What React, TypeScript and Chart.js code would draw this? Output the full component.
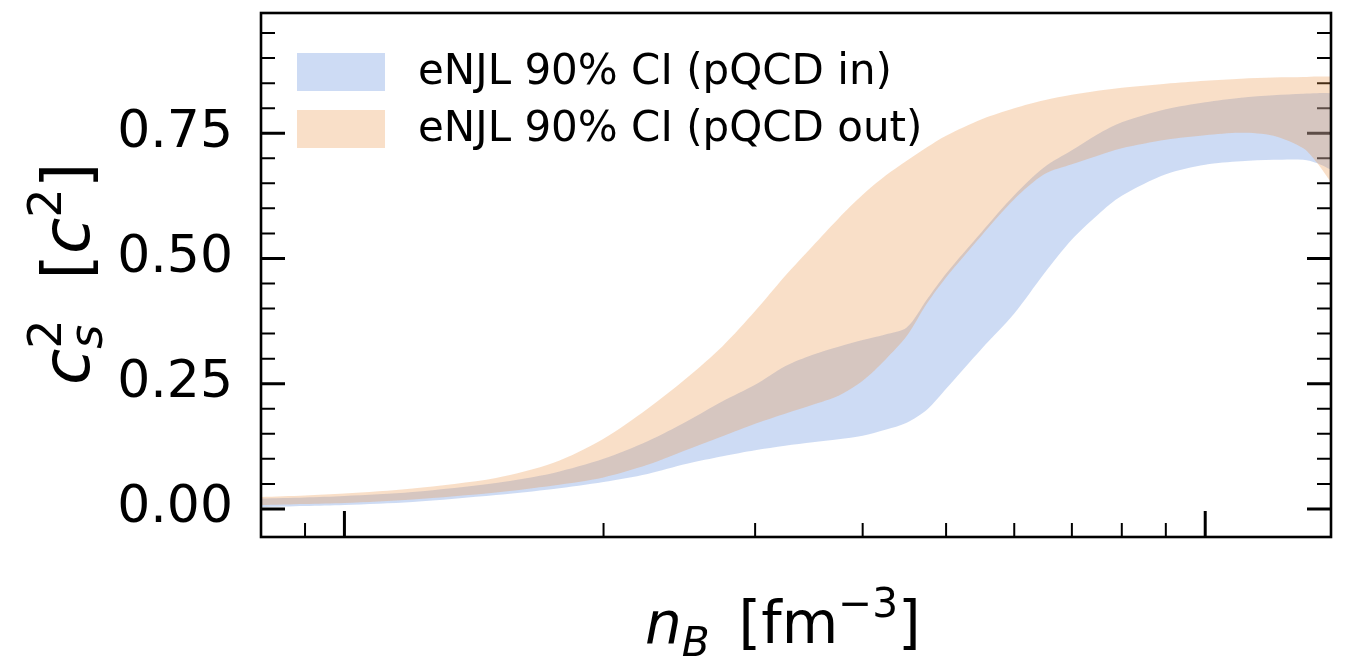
import React, { useEffect, useRef } from "react";
import { Chart, registerables } from "chart.js";

Chart.register(...registerables);

// ---- data ----
const nB = [0.08, 0.09, 0.1, 0.12, 0.15, 0.175, 0.2, 0.225, 0.25, 0.275, 0.3, 0.325, 0.35, 0.375, 0.4, 0.425, 0.45, 0.475, 0.5, 0.55, 0.6, 0.65, 0.7, 0.75, 0.8, 0.9, 1.0, 1.1, 1.2, 1.3, 1.35, 1.4];
const outHi = [0.024, 0.027, 0.031, 0.041, 0.062, 0.092, 0.14, 0.2, 0.262, 0.325, 0.395, 0.465, 0.525, 0.58, 0.627, 0.665, 0.695, 0.722, 0.745, 0.778, 0.8, 0.816, 0.827, 0.835, 0.841, 0.849, 0.855, 0.859, 0.861, 0.862, 0.863, 0.863];
const outLo = [0.008, 0.01, 0.012, 0.019, 0.033, 0.047, 0.063, 0.088, 0.118, 0.145, 0.17, 0.19, 0.208, 0.226, 0.256, 0.298, 0.345, 0.41, 0.462, 0.546, 0.618, 0.668, 0.688, 0.705, 0.72, 0.737, 0.746, 0.751, 0.745, 0.72, 0.69, 0.652];
const inHi = [0.021, 0.023, 0.026, 0.034, 0.052, 0.072, 0.1, 0.135, 0.175, 0.215, 0.248, 0.285, 0.308, 0.324, 0.337, 0.348, 0.362, 0.418, 0.47, 0.553, 0.626, 0.682, 0.716, 0.748, 0.772, 0.798, 0.812, 0.821, 0.826, 0.829, 0.83, 0.83];
const inLo = [0.004, 0.006, 0.008, 0.014, 0.028, 0.04, 0.054, 0.07, 0.09, 0.105, 0.117, 0.126, 0.133, 0.139, 0.146, 0.158, 0.172, 0.198, 0.24, 0.32, 0.39, 0.47, 0.538, 0.587, 0.625, 0.668, 0.687, 0.694, 0.697, 0.697, 0.69, 0.677];

const seriesLabels = ["eNJL 90% CI (pQCD in)", "eNJL 90% CI (pQCD out)"];
const yMajorTicks = [0, 0.25, 0.5, 0.75];
const yMinorTicks = [0.05, 0.1, 0.15, 0.2, 0.3, 0.35, 0.4, 0.45, 0.55, 0.6, 0.65, 0.7, 0.8, 0.85, 0.9, 0.95];
const xMajorTicks = [0.1, 1];
const xMinorTicks = [0.09, 0.2, 0.3, 0.4, 0.5, 0.6, 0.7, 0.8, 0.9];
const xRange = [0.08, 1.4];
const yRange = [-0.056, 0.99];

const BLUE = "rgba(99,142,221,0.32)";
const ORANGE = "rgba(235,148,72,0.30)";
const FONT = "'DejaVu Sans', 'Liberation Sans', sans-serif";

const W = 1345;
const H = 656;

const toPts = (ys: number[]) => nB.map((x, i) => ({ x, y: ys[i] }));

function drawRuns(ctx: CanvasRenderingContext2D, runs: any[], size: number) {
  let x = 0;
  for (const r of runs) {
    if (r.gap !== undefined) {
      x += r.gap * size;
      continue;
    }
    const parts = r.stack ? r.stack : [r];
    let maxW = 0;
    for (const p of parts) {
      const s = size * (p.scale ?? 1);
      ctx.font = `${p.italic ? "italic " : ""}${s}px ${FONT}`;
      ctx.fillText(p.t, x, (p.dy ?? 0) * size);
      maxW = Math.max(maxW, ctx.measureText(p.t).width);
    }
    x += maxW;
  }
}

const ticksPlugin = {
  id: "inwardTicks",
  beforeDatasetsDraw(chart: any) {
    const { ctx, chartArea: a, scales } = chart;
    ctx.save();
    ctx.strokeStyle = "#000";
    const drawY = (vals: number[], len: number, lw: number) => {
      ctx.lineWidth = lw;
      for (const v of vals) {
        const y = scales.y.getPixelForValue(v);
        ctx.beginPath();
        ctx.moveTo(a.left, y);
        ctx.lineTo(a.left + len, y);
        ctx.moveTo(a.right, y);
        ctx.lineTo(a.right - len, y);
        ctx.stroke();
      }
    };
    const drawX = (vals: number[], len: number, lw: number) => {
      ctx.lineWidth = lw;
      for (const v of vals) {
        const x = scales.x.getPixelForValue(v);
        ctx.beginPath();
        ctx.moveTo(x, a.bottom);
        ctx.lineTo(x, a.bottom - len);
        ctx.stroke();
      }
    };
    drawY(yMajorTicks, 24, 3);
    drawY(yMinorTicks, 14, 2);
    drawX(xMajorTicks, 26, 3);
    drawX(xMinorTicks, 14, 2);
    ctx.restore();
  },
};

const framePlugin = {
  id: "frame",
  afterDatasetsDraw(chart: any) {
    const { ctx, chartArea: a } = chart;
    ctx.save();
    ctx.strokeStyle = "#000";
    ctx.lineWidth = 2.6;
    ctx.strokeRect(a.left, a.top, a.right - a.left, a.bottom - a.top);
    ctx.restore();
  },
};

const legendPlugin = {
  id: "boxLegend",
  afterDraw(chart: any) {
    const { ctx } = chart;
    const ds = chart.data.datasets;
    const entries = [ds[2], ds[0]];
    ctx.save();
    ctx.textBaseline = "middle";
    ctx.font = `42px ${FONT}`;
    entries.forEach((d: any, i: number) => {
      const cy = 72 + i * 57;
      ctx.fillStyle = d.backgroundColor;
      ctx.fillRect(297, cy - 19, 88, 38);
      ctx.fillStyle = "#000";
      ctx.fillText(d.label, 418, cy + 1);
    });
    ctx.restore();
  },
};

const titlesPlugin = {
  id: "mathTitles",
  afterDraw(chart: any) {
    const { ctx } = chart;
    ctx.save();
    ctx.fillStyle = "#000";
    ctx.textBaseline = "alphabetic";
    // x title: n_B [fm^-3]
    ctx.save();
    ctx.translate(645, 643);
    drawRuns(ctx, [
      { t: "n", italic: true },
      { t: "B", italic: true, scale: 0.7, dy: 0.22 },
      { gap: 0.5 },
      { t: "[fm" },
      { t: "\u22123", scale: 0.7, dy: -0.45 },
      { t: "]" },
    ], 58);
    ctx.restore();
    // y title: c_s^2  [c^2]
    ctx.save();
    ctx.translate(89, 385);
    ctx.rotate(-Math.PI / 2);
    drawRuns(ctx, [
      { t: "c", italic: true },
      { stack: [
        { t: "2", scale: 0.7, dy: -0.42 },
        { t: "s", italic: true, scale: 0.7, dy: 0.2 },
      ] },
      { gap: 0.6 },
      { t: "[" },
      { t: "c", italic: true },
      { t: "2", scale: 0.7, dy: -0.42 },
      { t: "]" },
    ], 66);
    ctx.restore();
    ctx.restore();
  },
};

export default function App() {
  const ref = useRef<HTMLCanvasElement | null>(null);
  useEffect(() => {
    document.body.style.margin = "0";
    if (!ref.current) return;
    const common = { pointRadius: 0, borderWidth: 0, borderColor: "rgba(0,0,0,0)", tension: 0.3 };
    const chart = new Chart(ref.current, {
      type: "line",
      data: {
        datasets: [
          { ...common, label: seriesLabels[1], data: toPts(outHi), fill: "+1", backgroundColor: ORANGE },
          { ...common, label: seriesLabels[1] + " lower", data: toPts(outLo), fill: false, backgroundColor: ORANGE },
          { ...common, label: seriesLabels[0], data: toPts(inHi), fill: "+1", backgroundColor: BLUE },
          { ...common, label: seriesLabels[0] + " lower", data: toPts(inLo), fill: false, backgroundColor: BLUE },
        ],
      },
      options: {
        responsive: false,
        animation: false,
        layout: { padding: { top: 13, right: W - 1331, left: 0, bottom: 0 } },
        plugins: { legend: { display: false }, tooltip: { enabled: false } },
        scales: {
          x: {
            type: "logarithmic",
            min: xRange[0],
            max: xRange[1],
            ticks: { display: false },
            grid: { display: false, drawTicks: false },
            border: { display: false },
            afterFit: (s: any) => { s.height = H - 537; s.paddingLeft = 0; s.paddingRight = 0; },
          },
          y: {
            type: "linear",
            min: yRange[0],
            max: yRange[1],
            afterBuildTicks: (s: any) => { s.ticks = yMajorTicks.map((v) => ({ value: v })); },
            ticks: {
              color: "#000",
              font: { family: FONT, size: 52 },
              padding: 28,
              callback: (v: any) => Number(v).toFixed(2),
            },
            grid: { display: false, drawTicks: false },
            border: { display: false },
            afterFit: (s: any) => { s.width = 261; s.paddingTop = 0; s.paddingBottom = 0; },
          },
        },
      },
      plugins: [ticksPlugin, framePlugin, legendPlugin, titlesPlugin],
    } as any);
    return () => chart.destroy();
  }, []);
  return (
    <div style={{ width: W, height: H }}>
      <canvas ref={ref} width={W} height={H} style={{ display: "block" }} />
    </div>
  );
}
